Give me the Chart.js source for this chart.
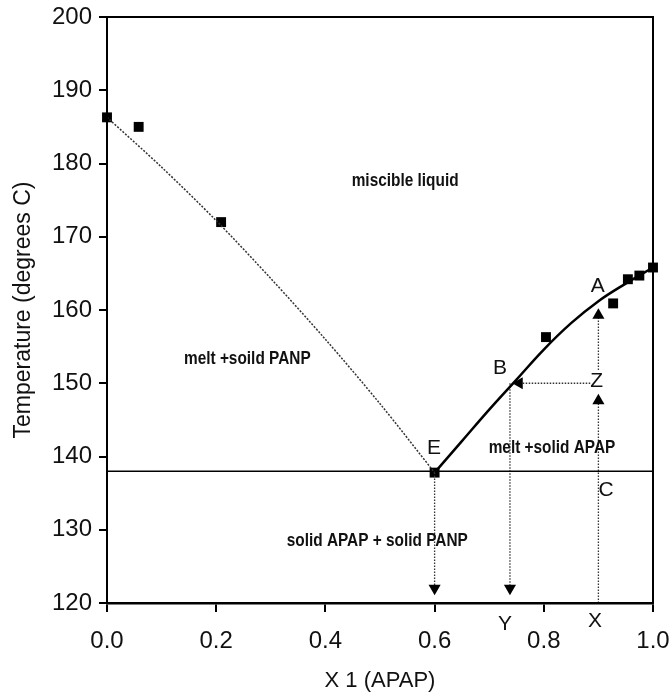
<!DOCTYPE html>
<html>
<head>
<meta charset="utf-8">
<script src="https://cdn.jsdelivr.net/npm/chart.js@4.4.1/dist/chart.umd.min.js"></script>
<style>
  body { margin: 0; background: #fff; }
  #wrap { width: 671px; height: 696px; }
</style>
</head>
<body>
<div id="wrap"><canvas id="phaseChart" width="671" height="696"></canvas></div>
<script>
// measured points (X1 APAP, temperature C)
var measX = [0, 0.058, 0.209, 0.6, 0.804, 0.927, 0.954, 0.975, 1.0];
var measT = [186.3, 185.0, 172.0, 137.8, 156.3, 160.9, 164.2, 164.7, 165.8];

// liquidus for PANP side (dotted) and APAP side (solid)
var panpX = [0, 0.1, 0.2, 0.3, 0.4, 0.5, 0.6];
var panpT = [186.3, 179.5, 172.2, 164.3, 156.0, 147.2, 137.8];
var apapX = [0.6, 0.65, 0.7, 0.75, 0.8, 0.85, 0.9, 0.95, 1.0];
var apapT = [137.8, 142.1, 146.4, 150.5, 154.6, 158.2, 161.2, 163.6, 165.8];

var eutecticT = 138;

// arrows: [x0, t0, x1, t1, rotation of head]
var arrows = [
  [0.6, 137.8, 0.6, 122, 180],
  [0.738, 150, 0.738, 122, 180],
  [0.885, 150, 0.755, 150, 270],
  [0.9, 120, 0.9, 147.6, 0],
  [0.9, 151.8, 0.9, 159.3, 0]
];

var xTicks = [0, 0.2, 0.4, 0.6, 0.8, 1.0];

// region labels and letters
var noteText = ['miscible liquid', 'melt +soild PANP', 'melt +solid APAP', 'solid APAP + solid PANP'];
var noteX = [0.546, 0.257, 0.815, 0.495];
var noteT = [177.7, 153.4, 141.2, 128.5];
var letterText = ['E', 'B', 'Z', 'A', 'C', 'Y', 'X'];
var letterX = [0.599, 0.72, 0.897, 0.899, 0.914, 0.729, 0.894];
var letterT = [141.2, 152.1, 150.3, 163.3, 135.4, 117.1, 117.5];

function pts(xs, ys) {
  return xs.map(function(x, i) { return { x: x, y: ys[i] }; });
}

var datasets = [
  {
    data: pts(panpX, panpT),
    borderColor: '#333', borderWidth: 1.5, borderDash: [2, 1.5],
    pointRadius: 0, tension: 0.3
  },
  {
    data: pts(apapX, apapT),
    borderColor: '#000', borderWidth: 2.5,
    pointRadius: 0, tension: 0.4
  },
  {
    data: [{ x: 0, y: eutecticT }, { x: 1, y: eutecticT }],
    borderColor: '#000', borderWidth: 1.5, pointRadius: 0
  }
];

arrows.forEach(function(a) {
  datasets.push({
    data: [{ x: a[0], y: a[1] }, { x: a[2], y: a[3] }],
    borderColor: '#333', borderWidth: 1.3, borderDash: [1.5, 1.5],
    pointStyle: 'triangle', pointRadius: [0, 7], pointRotation: a[4],
    pointBackgroundColor: '#000', pointBorderColor: '#000', pointBorderWidth: 0
  });
});

datasets.push({
  data: pts(measX, measT),
  showLine: false,
  pointStyle: 'rect', pointRadius: 7, pointHoverRadius: 7,
  pointBackgroundColor: '#000', pointBorderColor: '#000', pointBorderWidth: 0
});

datasets.forEach(function(d) { d.clip = false; });

var annotations = {
  id: 'annotations',
  afterDraw: function(chart) {
    var ctx = chart.ctx, xs = chart.scales.x, ys = chart.scales.y, a = chart.chartArea;
    ctx.save();
    // box around the plot
    ctx.strokeStyle = '#000';
    ctx.lineWidth = 2;
    ctx.strokeRect(a.left, a.top, a.right - a.left, a.bottom - a.top);

    ctx.fillStyle = '#111';
    ctx.textAlign = 'center';
    ctx.textBaseline = 'middle';
    // narrow bold lettering, as in the scan
    ctx.font = 'bold 19px "Liberation Sans", Arial';
    noteText.forEach(function(t, i) {
      ctx.save();
      ctx.translate(xs.getPixelForValue(noteX[i]), ys.getPixelForValue(noteT[i]));
      ctx.scale(0.81, 1);
      ctx.fillText(t, 0, 0);
      ctx.restore();
    });
    ctx.font = '21px "Liberation Sans", Arial';
    letterText.forEach(function(t, i) {
      ctx.fillText(t, xs.getPixelForValue(letterX[i]), ys.getPixelForValue(letterT[i]));
    });
    ctx.restore();
  }
};

new Chart(document.getElementById('phaseChart'), {
  type: 'line',
  data: { datasets: datasets },
  options: {
    responsive: false,
    animation: false,
    events: [],
    layout: { padding: { top: 17, right: 18, left: 0, bottom: 0 } },
    plugins: { legend: { display: false }, tooltip: { enabled: false } },
    scales: {
      x: {
        type: 'linear', min: 0, max: 1,
        afterBuildTicks: function(s) { s.ticks = xTicks.map(function(v) { return { value: v }; }); },
        afterFit: function(s) { s.height = 93; s.paddingLeft = 0; s.paddingRight = 0; },
        grid: { drawOnChartArea: false, tickLength: 9, color: '#000', lineWidth: 2 },
        border: { color: '#000', width: 2.5 },
        ticks: {
          color: '#111', padding: 15, maxRotation: 0,
          font: { family: '"Liberation Sans", Arial', size: 24 },
          callback: function(v) { return v.toFixed(1); }
        },
        title: {
          display: true, text: 'X 1 (APAP)', color: '#111',
          font: { family: '"Liberation Sans", Arial', size: 22 },
          padding: { top: 0, bottom: 2 }
        }
      },
      y: {
        type: 'linear', min: 120, max: 200,
        afterFit: function(s) { s.width = 107; s.paddingTop = 0; s.paddingBottom = 0; },
        grid: { drawOnChartArea: false, tickLength: 8, color: '#000', lineWidth: 2 },
        border: { color: '#000', width: 2 },
        ticks: {
          stepSize: 10, color: '#111', padding: 7,
          font: { family: '"Liberation Sans", Arial', size: 24 }
        },
        title: {
          display: true, text: 'Temperature (degrees C)', color: '#111',
          font: { family: '"Liberation Sans", Arial', size: 23 },
          padding: { top: 10, bottom: 0 }
        }
      }
    }
  },
  plugins: [annotations]
});
</script>
</body>
</html>
